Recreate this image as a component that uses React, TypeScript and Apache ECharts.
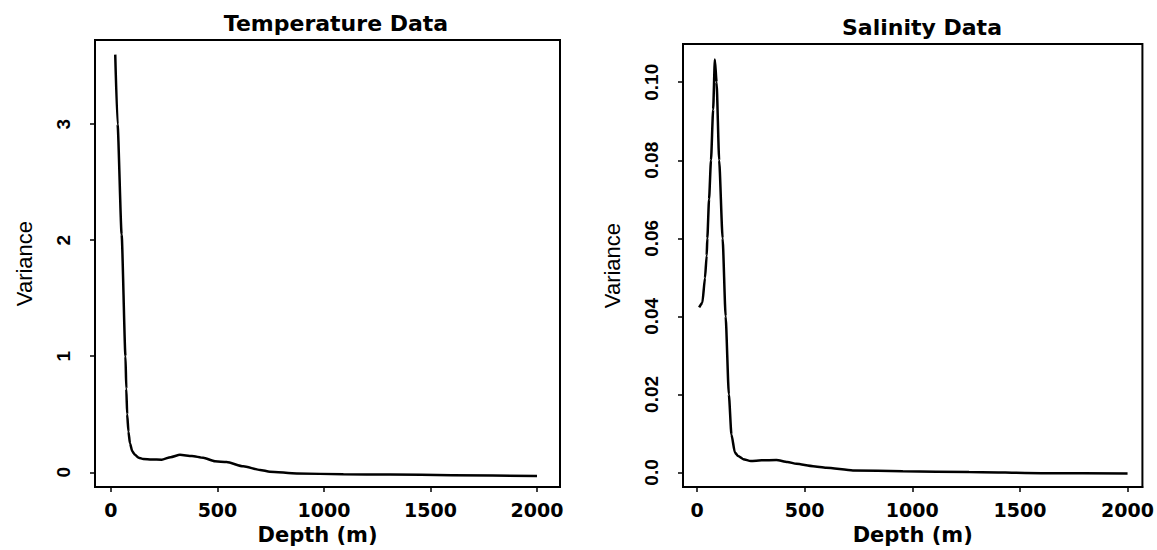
import React, { useEffect, useRef } from "react";
import * as echarts from "echarts";

// Temperature panel
const tempDepth = [20, 31, 50, 68, 72, 76, 82, 89, 100, 113, 130, 152, 190, 238, 280, 324, 380, 433, 488, 543, 621, 700, 746, 872, 1091, 1310, 1600, 2000];
const tempVar = [3.6, 3.0, 2.05, 1.0, 0.72, 0.5, 0.35, 0.25, 0.18, 0.15, 0.125, 0.115, 0.11, 0.108, 0.13, 0.15, 0.14, 0.125, 0.095, 0.088, 0.051, 0.02, 0.005, -0.011, -0.017, -0.02, -0.025, -0.032];

// Salinity panel
const salDepth = [10, 25, 37, 45, 48, 56, 65, 75, 83, 91, 103, 119, 133, 148, 160, 176, 191, 215, 250, 300, 369, 420, 462, 539, 600, 724, 956, 1264, 1600, 2000];
const salVar = [0.0423, 0.0435, 0.0498, 0.0556, 0.06, 0.07, 0.08, 0.093, 0.1058, 0.1, 0.08, 0.06, 0.04, 0.02, 0.0097, 0.0051, 0.0042, 0.0034, 0.0029, 0.0031, 0.0032, 0.0027, 0.0022, 0.0016, 0.0012, 0.0005, 0.0003, 0.0001, -0.0002, -0.0003];

// Ticks
const xTicks = [0, 500, 1000, 1500, 2000];
const xTickLabels = ["0", "500", "1000", "1500", "2000"];
const tempYTicks = [0, 1, 2, 3];
const tempYTickLabels = ["0", "1", "2", "3"];
const salYTicks = [0, 0.02, 0.04, 0.06, 0.08, 0.1];
const salYTickLabels = ["0.0", "0.02", "0.04", "0.06", "0.08", "0.10"];

const titles = ["Temperature Data", "Salinity Data"];
const xName = "Depth (m)";
const yName = "Variance";

const WIDE = "'DejaVu Sans', 'Liberation Sans', sans-serif";
const NARROW = "'Liberation Sans', Arial, sans-serif";

function labelFor(ticks: number[], labels: string[]) {
  return (v: number) => {
    for (let i = 0; i < ticks.length; i++) {
      if (Math.abs(ticks[i] - v) < 1e-9) return labels[i];
    }
    return "";
  };
}

export default function App() {
  const ref = useRef<HTMLDivElement>(null);
  useEffect(() => {
    if (!ref.current) return;
    const chart = echarts.init(ref.current, null, { renderer: "svg" });
    const grids = [
      { left: 95, top: 40, width: 465, height: 451 },
      { left: 683, top: 44, width: 461, height: 453 },
    ];
    const xRanges = [
      [-75, 2108],
      [-65, 2069],
    ];
    const yRanges = [
      [-0.128, 3.726],
      [-0.00376, 0.1098],
    ];
    const yTickSets = [tempYTicks, salYTicks];
    const yLabelSets = [tempYTickLabels, salYTickLabels];
    const xNamePads = [
      [0, 20, 0, 0],
      [0, 0, 0, 0],
    ];

    const xAxes = grids.map((_, i) => ({
      type: "value",
      gridIndex: i,
      min: xRanges[i][0],
      max: xRanges[i][1],
      name: xName,
      nameLocation: "middle",
      nameGap: 36,
      nameTextStyle: { fontFamily: WIDE, fontWeight: "bold", fontSize: 21, color: "#000", padding: xNamePads[i] },
      axisLine: { show: true, onZero: false, lineStyle: { color: "#000", width: 2 } },
      axisTick: { show: true, length: 5, customValues: xTicks, lineStyle: { color: "#000", width: 1.5 } },
      axisLabel: {
        show: true,
        customValues: xTicks,
        formatter: labelFor(xTicks, xTickLabels),
        margin: 13,
        fontFamily: WIDE,
        fontWeight: "bold",
        fontSize: 19,
        color: "#000",
      },
      splitLine: { show: false },
    }));

    const yAxes = grids.map((_, i) => ({
      type: "value",
      gridIndex: i,
      min: yRanges[i][0],
      max: yRanges[i][1],
      name: yName,
      nameLocation: "middle",
      nameGap: 60,
      nameRotate: 90,
      nameTextStyle: { fontFamily: NARROW, fontSize: 22, color: "#000" },
      axisLine: { show: true, onZero: false, lineStyle: { color: "#000", width: 2 } },
      axisTick: { show: true, length: 5, customValues: yTickSets[i], lineStyle: { color: "#000", width: 1.5 } },
      axisLabel: {
        show: true,
        rotate: 90,
        customValues: yTickSets[i],
        formatter: labelFor(yTickSets[i], yLabelSets[i]),
        margin: 22,
        fontFamily: NARROW,
        fontWeight: "bold",
        fontSize: 19,
        color: "#000",
      },
      splitLine: { show: false },
    }));

    const option: any = {
      animation: false,
      backgroundColor: "#fff",
      title: [
        {
          text: titles[0],
          left: 331,
          top: 7,
          textAlign: "center",
          textStyle: { fontFamily: WIDE, fontWeight: "bold", fontSize: 22, color: "#000" },
        },
        {
          text: titles[1],
          left: 917,
          top: 11,
          textAlign: "center",
          textStyle: { fontFamily: WIDE, fontWeight: "bold", fontSize: 22, color: "#000" },
        },
      ],
      grid: grids.map((g) => ({ ...g, show: true, borderColor: "#000", borderWidth: 2, backgroundColor: "transparent" })),
      xAxis: xAxes,
      yAxis: yAxes,
      series: [
        {
          type: "line",
          xAxisIndex: 0,
          yAxisIndex: 0,
          data: tempDepth.map((d, i) => [d, tempVar[i]]),
          showSymbol: false,
          smooth: 0.2,
          smoothMonotone: "x",
          lineStyle: { color: "#000", width: 2.5 },
        },
        {
          type: "line",
          xAxisIndex: 1,
          yAxisIndex: 1,
          data: salDepth.map((d, i) => [d, salVar[i]]),
          showSymbol: false,
          smooth: 0.2,
          smoothMonotone: "x",
          lineStyle: { color: "#000", width: 2.5 },
        },
      ],
    };
    chart.setOption(option);
    return () => chart.dispose();
  }, []);
  return (
    <div
      ref={ref}
      style={{ position: "absolute", left: 0, top: 0, width: 1157, height: 550, background: "#fff" }}
    />
  );
}
